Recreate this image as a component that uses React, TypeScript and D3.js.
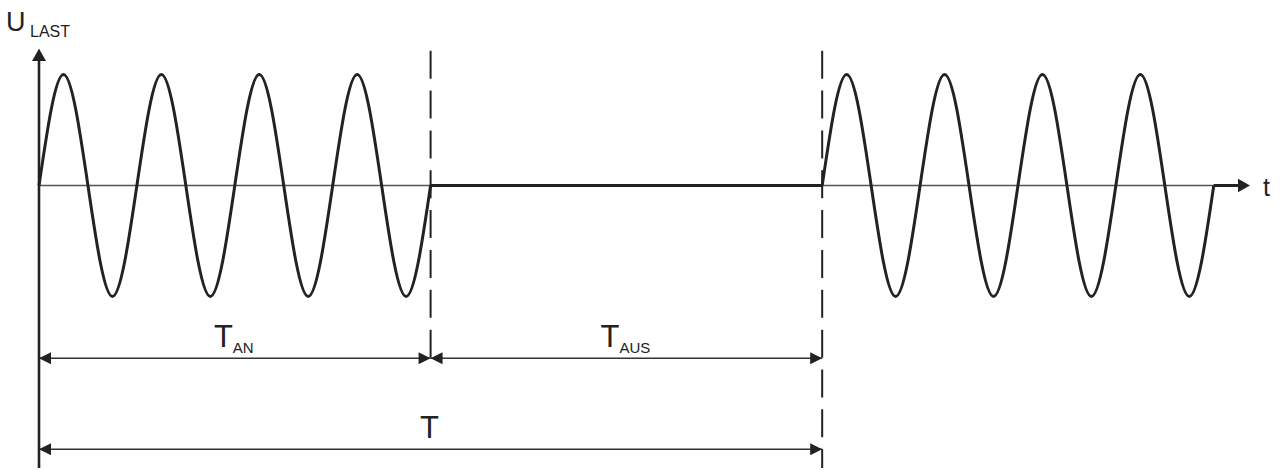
import * as d3 from "d3";

// time is measured in sine cycles, voltage in units of the amplitude
const burstStarts = [0, 8];
const burstLevels = [0, 1, 0, -1, 0, 1, 0, -1, 0, 1, 0, -1, 0, 1, 0, -1, 0]; // one sample per quarter cycle
const offFrom = [4, 12];
const offTo = [8, 12.25];
const switchTimes = [4, 8];

// dimension arrows under the chart
const dimFrom = [0, 4, 0];
const dimTo = [4, 8, 8];
const dimSubs = ["AN", "AUS", ""];
const dimRows = [0, 0, 1];

const width = 1283;
const height = 470;
const font = "'Liberation Sans', Arial, Helvetica, sans-serif";
const ink = "#222";

const x = d3.scaleLinear().domain([0, 12.37]).range([39, 1250]);
const y = d3.scaleLinear().domain([-1, 1]).range([296.5, 74.5]);
const rowY = [358.3, 449.3];

const axisTop = 48.5;
const axisBottom = 468;
const dashTop = 50.7;
const dashBottoms = [358.3, 468];

// filled arrow head, tip at (tx, ty) pointing along dir
function arrow(tx: number, ty: number, dir: "left" | "right" | "up", len = 12, half = 6) {
  if (dir === "up") return `M${tx},${ty}L${tx - half},${ty + len}L${tx + half},${ty + len}Z`;
  const s = dir === "right" ? -1 : 1;
  return `M${tx},${ty}L${tx + s * len},${ty - half}L${tx + s * len},${ty + half}Z`;
}

export default function App() {
  const wave = d3
    .line<[number, number]>()
    .x(d => x(d[0]))
    .y(d => y(d[1]))
    .curve(d3.curveNatural);

  const y0 = y(0);

  return (
    <svg
      width={width}
      height={height}
      viewBox={`0 0 ${width} ${height}`}
      style={{ position: "absolute", left: 0, top: 0, background: "#fff", fontFamily: font }}
    >
      {/* time axis */}
      <line x1={x(0)} x2={x(12.25)} y1={y0} y2={y0} stroke="#555" strokeWidth={1.6} />
      <path d={arrow(x(12.37), y0, "right", 12, 6.7)} fill={ink} />
      <text x={1263} y={196} fontSize={25} fill={ink}>t</text>

      {/* voltage axis */}
      <line x1={x(0)} x2={x(0)} y1={axisTop + 10} y2={axisBottom} stroke={ink} strokeWidth={2.6} />
      <path d={arrow(x(0), axisTop, "up", 12.5, 7)} fill={ink} />
      <text x={6} y={31} fontSize={27} fill={ink}>U</text>
      <text x={30} y={36.7} fontSize={16} fill={ink}>LAST</text>

      {/* switching instants */}
      {switchTimes.map((t, i) => (
        <line
          key={"sw" + i}
          x1={x(t)}
          x2={x(t)}
          y1={dashTop}
          y2={dashBottoms[i]}
          stroke={ink}
          strokeWidth={2}
          strokeDasharray="28 11.85"
        />
      ))}

      {/* signal */}
      {burstStarts.map((s, b) => (
        <path
          key={"b" + b}
          d={wave(burstLevels.map((v, i) => [s + i * 0.25, v] as [number, number])) || ""}
          fill="none"
          stroke={ink}
          strokeWidth={3}
        />
      ))}
      {offFrom.map((f, i) => (
        <line key={"off" + i} x1={x(f)} x2={x(offTo[i])} y1={y0} y2={y0} stroke={ink} strokeWidth={3} />
      ))}

      {/* dimensions */}
      {dimFrom.map((f, i) => {
        const yy = rowY[dimRows[i]];
        const x1 = x(f);
        const x2 = x(dimTo[i]);
        return (
          <g key={"dim" + i}>
            <line x1={x1} x2={x2} y1={yy} y2={yy} stroke="#333" strokeWidth={1.6} />
            <path d={arrow(x1, yy, "left")} fill={ink} />
            <path d={arrow(x2, yy, "right")} fill={ink} />
            <text x={(x1 + x2) / 2 - 1} y={yy - 11.3} textAnchor="middle" fill={ink} fontSize={31}>
              T
              {dimSubs[i] && (
                <tspan dy={5.5} fontSize={15}>
                  {dimSubs[i]}
                </tspan>
              )}
            </text>
          </g>
        );
      })}
    </svg>
  );
}
